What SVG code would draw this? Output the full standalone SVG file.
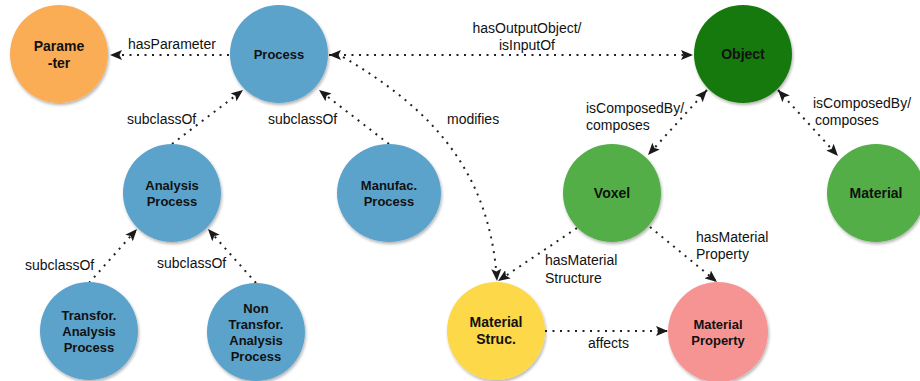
<svg xmlns="http://www.w3.org/2000/svg" width="920" height="381" viewBox="0 0 920 381">
<style>
.n{stroke:none;filter:url(#sh)}
.t{font-family:"Liberation Sans",Arial,sans-serif;font-weight:bold;font-size:13px;fill:#111;text-anchor:middle}
.tb{font-size:14px}
.l{font-family:"Liberation Sans",Arial,sans-serif;font-size:14px;fill:#111}
.e{fill:none;stroke:#222;stroke-width:2;stroke-dasharray:2 5.5}
.a{marker-end:url(#ah)}
.b{marker-start:url(#ah);marker-end:url(#ah)}
</style>
<defs>
<filter id="sh" x="-20%" y="-20%" width="140%" height="140%">
<feDropShadow dx="1" dy="2" stdDeviation="1.5" flood-color="#000" flood-opacity="0.3"/>
</filter>
<marker id="ah" markerUnits="userSpaceOnUse" markerWidth="13" markerHeight="10" refX="12" refY="5" orient="auto-start-reverse">
<path d="M0,0 L12,5 L0,10 L2.5,5 z" fill="#1a1a1a"/>
</marker>
</defs>
<rect width="920" height="381" fill="#fff"/>
<g id="connectors">
<path class="e a" d="M229,55 L110,55"/>
<path class="e b" d="M329,55 L693,55"/>
<path class="e a" d="M172,144 L243,90"/>
<path class="e a" d="M389,144 L319,90"/>
<path class="e a" d="M343,57 C430,108 490,170 497,281"/>
<path class="e a" d="M89,283 L137,229"/>
<path class="e a" d="M256,283 L208,229"/>
<path class="e b" d="M707,90 L648,155"/>
<path class="e b" d="M778,90 L838,156"/>
<path class="e a" d="M577,228 L498,281"/>
<path class="e a" d="M650,227 L717,282"/>
<path class="e a" d="M545,331 L668,331"/>
<text class="l" x="128" y="49">hasParameter</text>
<text class="l" x="527" y="33" text-anchor="middle">hasOutputObject/</text>
<text class="l" x="527" y="50" text-anchor="middle">isInputOf</text>
<text class="l" x="127" y="124">subclassOf</text>
<text class="l" x="268" y="124">subclassOf</text>
<text class="l" x="447" y="124">modifies</text>
<text class="l" x="586" y="113">isComposedBy/</text>
<text class="l" x="586" y="130">composes</text>
<text class="l" x="813" y="108">isComposedBy/</text>
<text class="l" x="815" y="125">composes</text>
<text class="l" x="25" y="270">subclassOf</text>
<text class="l" x="157" y="268">subclassOf</text>
<text class="l" x="545" y="265">hasMaterial</text>
<text class="l" x="545" y="283">Structure</text>
<text class="l" x="696" y="242">hasMaterial</text>
<text class="l" x="696" y="259">Property</text>
<text class="l" x="588" y="348">affects</text>
</g>
<g id="parameter">
<circle class="n" cx="59" cy="54" r="49" fill="#fbad57"/>
<text class="t tb" x="59" y="51">Parame</text>
<text class="t tb" x="59" y="68">-ter</text>
</g>
<g id="process">
<circle class="n" cx="279" cy="54" r="49" fill="#5ca3cc"/>
<text class="t" x="279" y="58.5">Process</text>
</g>
<g id="object">
<circle class="n" cx="743" cy="54" r="49" fill="#15790c"/>
<text class="t tb" x="743" y="59">Object</text>
</g>
<g id="analysis-process">
<circle class="n" cx="172" cy="193" r="49" fill="#5ca3cc"/>
<text class="t" x="172" y="189.5">Analysis</text>
<text class="t" x="172" y="205.5">Process</text>
</g>
<g id="manufac-process">
<ellipse class="n" cx="389" cy="193" rx="52" ry="49" fill="#5ca3cc"/>
<text class="t" x="389" y="189.5">Manufac.</text>
<text class="t" x="389" y="205.5">Process</text>
</g>
<g id="transfor-analysis-process">
<circle class="n" cx="89" cy="331" r="49" fill="#5ca3cc"/>
<text class="t" x="89" y="319.5">Transfor.</text>
<text class="t" x="89" y="335.5">Analysis</text>
<text class="t" x="89" y="351.5">Process</text>
</g>
<g id="non-transfor-analysis-process">
<circle class="n" cx="256" cy="332" r="49" fill="#5ca3cc"/>
<text class="t" x="256" y="312.5">Non</text>
<text class="t" x="256" y="328.5">Transfor.</text>
<text class="t" x="256" y="344.5">Analysis</text>
<text class="t" x="256" y="360.5">Process</text>
</g>
<g id="voxel">
<circle class="n" cx="612" cy="193" r="49" fill="#52ae47"/>
<text class="t tb" x="612" y="198">Voxel</text>
</g>
<g id="material">
<circle class="n" cx="876" cy="193" r="49" fill="#52ae47"/>
<text class="t tb" x="876" y="198">Material</text>
</g>
<g id="material-struc">
<circle class="n" cx="496" cy="331" r="49" fill="#fdd84a"/>
<text class="t tb" x="496" y="327">Material</text>
<text class="t tb" x="496" y="344">Struc.</text>
</g>
<g id="material-property">
<circle class="n" cx="718" cy="332" r="50" fill="#f69494"/>
<text class="t" x="718" y="328.5">Material</text>
<text class="t" x="718" y="344.5">Property</text>
</g>
</svg>
